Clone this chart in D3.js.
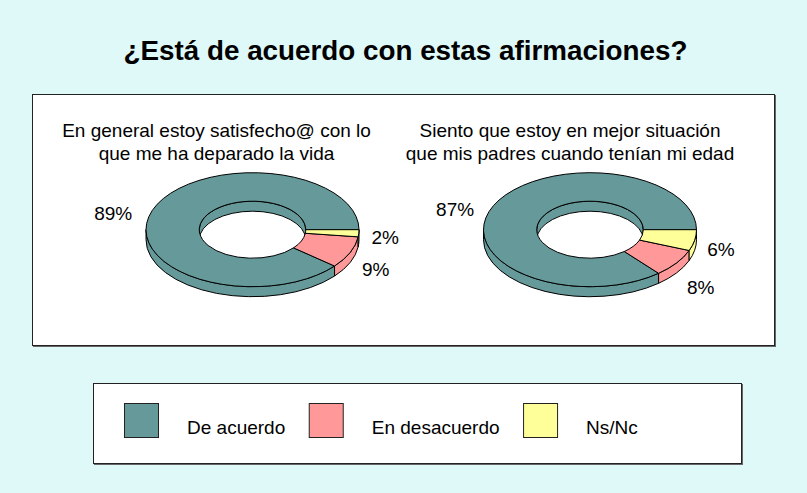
<!DOCTYPE html>
<html>
<head>
<meta charset="utf-8">
<script src="https://cdn.jsdelivr.net/npm/d3@7"></script>
<style>
  body { margin: 0; background: #dff8f8; }
  svg { display: block; font-family: Arial, 'Liberation Sans', sans-serif; }
</style>
</head>
<body>
<div id="chart"></div>
<script>
// data
let categories = ['De acuerdo', 'En desacuerdo', 'Ns/Nc']

let questions = [
    ['En general estoy satisfecho@ con lo', 'que me ha deparado la vida'],
    ['Siento que estoy en mejor situación', 'que mis padres cuando tenían mi edad']
]

let valuesSatisfecho = [89, 9, 2]

let valuesMejor = [87, 8, 6]

let title = '¿Está de acuerdo con estas afirmaciones?'

let colors = ['#669999', '#ff9999', '#ffff99']

// layout
let width = 807, height = 493

let donutCx = [252.5, 590], donutCy = 229.7
let rx = 106.5, ry = 57, innerK = 0.5, depth = 10
let subtitleDx = [-36, -20]

let svg = d3.select('#chart')
.append('svg')
.attr('width', width)
.attr('height', height)

svg.append('rect')
.attr('width', width)
.attr('height', height)
.attr('fill', '#dff8f8')

svg.append('text')
.attr('x', 405.5)
.attr('y', 60)
.attr('text-anchor', 'middle')
.style('font-size', '27.8px')
.style('font-weight', 'bold')
.text(title)

// plot area box
svg.append('rect')
.attr('x', 33).attr('y', 95).attr('width', 743).attr('height', 252)
.attr('fill', '#666')
svg.append('rect')
.attr('x', 32.5).attr('y', 94.5).attr('width', 742).attr('height', 251)
.attr('fill', '#fff')
.style('stroke', '#222')

let pie = d3.pie().sort(null)
.startAngle(Math.PI / 2)
.endAngle(Math.PI / 2 - 2 * Math.PI)

function pt(cx, cy, a, b, t, dy) {
    return [cx + a * Math.cos(t), cy + b * Math.sin(t) + (dy || 0)]
}

function topFace(cx, cy, t0, t1) {
    let ra = rx * innerK, rb = ry * innerK
    let large = t1 - t0 > Math.PI ? 1 : 0
    return `M${pt(cx, cy, rx, ry, t0)}A${rx},${ry} 0 ${large} 1 ${pt(cx, cy, rx, ry, t1)}` +
        `L${pt(cx, cy, ra, rb, t1)}A${ra},${rb} 0 ${large} 0 ${pt(cx, cy, ra, rb, t0)}Z`
}

function wall(cx, cy, a, b, t0, t1) {
    let large = t1 - t0 > Math.PI ? 1 : 0
    return `M${pt(cx, cy, a, b, t0)}A${a},${b} 0 ${large} 1 ${pt(cx, cy, a, b, t1)}` +
        `L${pt(cx, cy, a, b, t1, depth)}A${a},${b} 0 ${large} 0 ${pt(cx, cy, a, b, t0, depth)}Z`
}

function clip(t0, t1, lo, hi) {
    let a = Math.max(t0, lo), b = Math.min(t1, hi)
    return b > a ? [a, b] : null
}

function drawDonut(i, values) {
    let cx = donutCx[i], cy = donutCy

    let arcs = pie(values).map((d, j) => {
        // screen angle, clockwise from 3 o'clock, in [0, 2pi]
        let s = d.startAngle - Math.PI / 2 + 2 * Math.PI
        let e = d.endAngle - Math.PI / 2 + 2 * Math.PI
        return { t0: Math.min(s, e), t1: Math.max(s, e), value: d.value, color: colors[j] }
    })

    let g = svg.append('g').attr('class', 'donut')

    // inner wall, back half
    arcs.forEach(d => {
        let c = clip(d.t0, d.t1, Math.PI, 2 * Math.PI)
        if (c) g.append('path')
            .attr('d', wall(cx, cy, rx * innerK, ry * innerK, c[0], c[1]))
            .attr('fill', d.color)
            .style('stroke', '#000').style('stroke-width', 1)
    })

    // outer wall, front half
    arcs.forEach(d => {
        let c = clip(d.t0, d.t1, 0, Math.PI)
        if (c) g.append('path')
            .attr('d', wall(cx, cy, rx, ry, c[0], c[1]))
            .attr('fill', d.color)
            .style('stroke', '#000').style('stroke-width', 1)
    })

    // top faces
    g.selectAll('.slice')
    .data(arcs)
    .join('path')
    .attr('class', 'slice')
    .attr('d', d => topFace(cx, cy, d.t0, d.t1))
    .attr('fill', d => d.color)
    .style('stroke', '#000')
    .style('stroke-width', 1)

    // labels
    g.selectAll('.lbl')
    .data(arcs)
    .join('text')
    .attr('class', 'lbl')
    .each(function(d) {
        let m = (d.t0 + d.t1) / 2
        let c = Math.cos(m), s = Math.sin(m)
        d3.select(this)
        .attr('x', cx + rx * (c > 0 ? 1.12 : 1.2) * c)
        .attr('y', cy + 8 + s * (s > 0 ? ry * 1.7 : ry * 0.9))
        .attr('text-anchor', c > 0 ? 'start' : 'end')
    })
    .style('font-size', '19px')
    .text(d => d.value + '%')

    // subtitle
    svg.append('text')
    .attr('text-anchor', 'middle')
    .style('font-size', '19px')
    .selectAll('tspan')
    .data(questions[i])
    .join('tspan')
    .attr('x', cx + subtitleDx[i])
    .attr('y', (d, k) => 137 + k * 23)
    .text(d => d)
}

drawDonut(0, valuesSatisfecho)
drawDonut(1, valuesMejor)

// legend
svg.append('rect')
.attr('x', 94).attr('y', 384).attr('width', 649).attr('height', 81)
.attr('fill', '#666')
svg.append('rect')
.attr('x', 93.5).attr('y', 383.5).attr('width', 648).attr('height', 80)
.attr('fill', '#fff')
.style('stroke', '#222')

let lx = 124.5
categories.forEach((c, i) => {
    svg.append('rect')
    .attr('x', lx).attr('y', 403.5).attr('width', 34).attr('height', 34)
    .attr('fill', colors[i])
    .style('stroke', '#222')

    let t = svg.append('text')
    .attr('x', lx + 62.5)
    .attr('y', 434)
    .style('font-size', '19px')
    .text(c)

    lx = lx + 62.5 + t.node().getComputedTextLength() + 24
})
</script>
</body>
</html>
